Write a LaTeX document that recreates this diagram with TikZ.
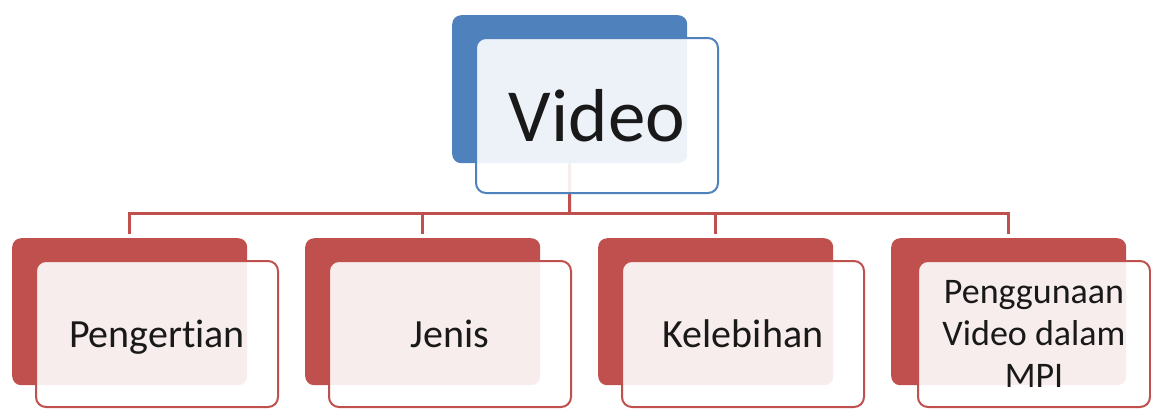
\documentclass[tikz,border=0pt]{standalone}
\usepackage{fontspec}
\setmainfont{Carlito}[Ligatures=NoCommon]
\definecolor{cblue}{HTML}{4F81BD}
\definecolor{cred}{HTML}{C0504D}
\tikzset{
  backbox/.style={draw=none, fill=#1, rounded corners=9pt, minimum width=235pt, minimum height=147pt, inner sep=0pt, anchor=north west},
  frontbox/.style={draw=#1, line width=2pt, fill=white, fill opacity=0.9, text opacity=1, rounded corners=10pt, inner sep=0pt, anchor=north west, align=center, minimum width=242pt, text=black!90},
  conn/.style={draw=cred, line width=3pt},
  childfont/.style={font=\fontsize{40}{43}\selectfont, text depth=0pt},
  smallfont/.style={font=\fontsize{36}{42}\selectfont, text depth=0pt},
}
\begin{document}
\begin{tikzpicture}[x=1pt,y=-1pt]
\useasboundingbox (0,0) rectangle (1151,408);
% back boxes
\node[backbox=cblue, minimum height=148pt] (vback) at (452,15) {};
\node[backbox=cred] (aback) at (12,238) {};
\node[backbox=cred] (bback) at (305,238) {};
\node[backbox=cred] (cback) at (598,238) {};
\node[backbox=cred] (dback) at (891,238) {};
% connectors
\coordinate (hub) at (569.5,213);
\draw[conn] (vback.south) -- (hub);
\foreach \c in {aback,bback,cback,dback}
  \draw[conn, shorten >=4pt] (hub) -| (\c.north);
% front boxes
\node[frontbox=cblue, minimum height=155pt, font=\fontsize{75}{80}\selectfont] (video) at (475,37) {Video};
\node[frontbox=cred, minimum height=146pt, childfont] (a) at (35,260) {Pengertian};
\node[frontbox=cred, minimum height=146pt, childfont] (b) at (328,260) {Jenis};
\node[frontbox=cred, minimum height=146pt, childfont] (c) at (621,260) {Kelebihan};
\node[frontbox=cred, minimum height=146pt, smallfont, minimum width=232pt] (d) at (917,260) {Penggunaan\\Video dalam\\MPI};
\end{tikzpicture}
\end{document}
